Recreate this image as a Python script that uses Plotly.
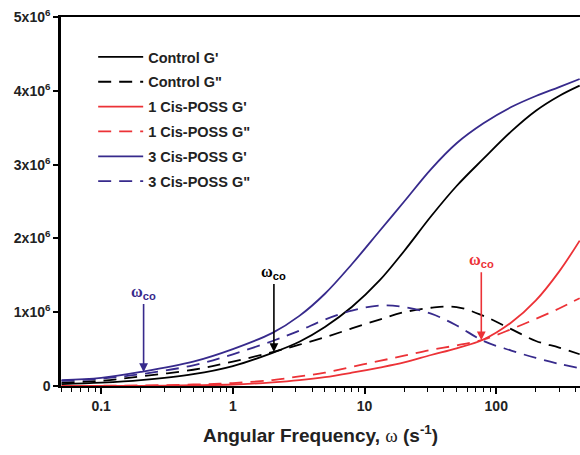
import math
import plotly.graph_objects as go

# Angular frequency grid (s^-1)
omega = [0.05, 0.1, 0.2, 0.5, 1, 2, 3.2, 5, 8, 13, 20, 32, 50, 80, 130, 200, 300, 430]

# Moduli in units of 10^6 Pa
control_g1 = [0.025, 0.045, 0.08, 0.16, 0.27, 0.45, 0.60, 0.80, 1.07, 1.43, 1.83, 2.30, 2.71, 3.08, 3.45, 3.73, 3.93, 4.07]
control_g2 = [0.045, 0.07, 0.13, 0.22, 0.33, 0.46, 0.56, 0.66, 0.78, 0.90, 1.00, 1.06, 1.07, 0.95, 0.77, 0.61, 0.52, 0.43]
cis1_g1 = [0.0, 0.0, 0.003, 0.01, 0.02, 0.05, 0.08, 0.12, 0.18, 0.25, 0.32, 0.42, 0.51, 0.63, 0.86, 1.16, 1.55, 1.97]
cis1_g2 = [0.0, 0.003, 0.008, 0.02, 0.04, 0.08, 0.13, 0.18, 0.26, 0.34, 0.41, 0.49, 0.55, 0.63, 0.77, 0.91, 1.05, 1.19]
cis3_g1 = [0.08, 0.11, 0.19, 0.33, 0.50, 0.72, 0.95, 1.25, 1.65, 2.10, 2.50, 2.94, 3.29, 3.56, 3.78, 3.93, 4.05, 4.16]
cis3_g2 = [0.07, 0.10, 0.16, 0.28, 0.43, 0.61, 0.75, 0.90, 1.02, 1.09, 1.07, 0.98, 0.82, 0.61, 0.48, 0.38, 0.30, 0.24]

BLACK = "#000000"
RED = "#ec3237"
BLUE = "#372a8c"
DASH = "13px,8px"

# Crossover points (omega, modulus in 10^6 Pa)
crossovers = [
    (0.21, 0.19, BLUE),
    (2.05, 0.46, BLACK),
    (77, 0.62, RED),
]

y_ticks = [0, 1, 2, 3, 4, 5]
y_ticktext = ["0"] + [f"{v}x10<sup>6</sup>" for v in y_ticks[1:]]
x_ticks = [0.1, 1, 10, 100]
x_ticktext = ["0.1", "1", "10", "100"]
x_minor = [0.05, 0.06, 0.07, 0.08, 0.09, 0.2, 0.3, 0.4, 0.5, 0.6, 0.7, 0.8, 0.9,
           2, 3, 4, 5, 6, 7, 8, 9, 20, 30, 40, 50, 60, 70, 80, 90, 200, 300, 400]

series = [
    ("Control G'", control_g1, BLACK, "solid"),
    ("Control G\"", control_g2, BLACK, DASH),
    ("1 Cis-POSS G'", cis1_g1, RED, "solid"),
    ("1 Cis-POSS G\"", cis1_g2, RED, DASH),
    ("3 Cis-POSS G'", cis3_g1, BLUE, "solid"),
    ("3 Cis-POSS G\"", cis3_g2, BLUE, DASH),
]

fig = go.Figure()
for i, (name, vals, color, dash) in enumerate(series):
    fig.add_trace(go.Scatter(
        x=omega, y=[v * 1e6 for v in vals], name=f"<b>{name}</b>", mode="lines",
        line=dict(color=color, width=1.8, dash=dash, shape="spline", smoothing=1.0),
        legendgroup=f"g{i}",
    ))

for wx, gy, color in crossovers:
    fig.add_annotation(
        x=math.log10(wx), y=gy * 1e6, xref="x", yref="y",
        text="<span style='font-family:Liberation Serif'><b>ω</b></span><sub><b>co</b></sub>",
        font=dict(family="Liberation Sans", size=16, color=color),
        showarrow=True, arrowhead=2, arrowsize=1.1, arrowwidth=1.6, arrowcolor=color,
        ax=0, ay=-68, yanchor="bottom", standoff=0,
    )

fig.update_layout(
    width=580, height=455,
    margin=dict(l=61, r=0, t=17, b=69),
    paper_bgcolor="white", plot_bgcolor="white",
    font=dict(family="Liberation Sans", color="#222222"),
    showlegend=True,
    legend=dict(
        x=0.062, y=0.935, xanchor="left", yanchor="top",
        bgcolor="rgba(0,0,0,0)", traceorder="grouped", tracegroupgap=3,
        font=dict(family="Liberation Sans", size=14.5, color="#222222"),
        itemwidth=45,
    ),
    xaxis=dict(
        type="log", range=[-1.305, 2.636],
        showline=True, linecolor=BLACK, linewidth=2, mirror=True,
        showgrid=False, zeroline=False,
        tickmode="array", tickvals=x_ticks, ticktext=[f"<b>{t}</b>" for t in x_ticktext],
        ticks="outside", ticklen=6, tickwidth=1.5, tickcolor=BLACK,
        tickfont=dict(family="Liberation Sans", size=14, color="#222222"),
        minor=dict(tickmode="array", tickvals=x_minor, ticks="outside", ticklen=4,
                   tickwidth=1.2, tickcolor=BLACK, showgrid=False),
        title=dict(
            text="<b>Angular Frequency, </b><span style='font-family:Liberation Serif'>ω</span><b> (s<sup>-1</sup>)</b>",
            font=dict(family="Liberation Sans", size=19, color="#222222"),
            standoff=16,
        ),
    ),
    yaxis=dict(
        range=[0, 5e6],
        showline=True, linecolor=BLACK, linewidth=2.5,
        showgrid=False, zeroline=False,
        tickmode="array", tickvals=[v * 1e6 for v in y_ticks],
        ticktext=[f"<b>{t}</b>" for t in y_ticktext],
        ticks="outside", ticklen=5, tickwidth=1.5, tickcolor=BLACK,
        tickfont=dict(family="Liberation Sans", size=14, color="#222222"),
    ),
)

fig.write_html("out.html")
